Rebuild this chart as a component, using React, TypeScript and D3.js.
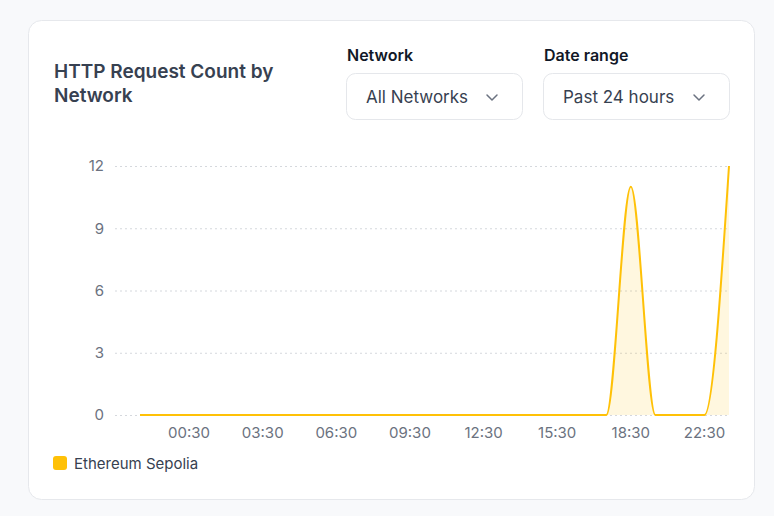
import React, { useEffect, useRef } from 'react';
import * as d3 from 'd3';

// hourly buckets, one hour is missing in the source between 18:30 and 20:30
const hours = [
  '22:30', '23:30', '00:30', '01:30', '02:30', '03:30', '04:30', '05:30', '06:30',
  '07:30', '08:30', '09:30', '10:30', '11:30', '12:30', '13:30', '14:30', '15:30',
  '16:30', '17:30', '18:30', '20:30', '21:30', '22:30', '23:30',
];
const requests = [0, 0, 0, 0, 0, 0, 0, 0, 0, 0, 0, 0, 0, 0, 0, 0, 0, 0, 0, 0, 11, 0, 0, 0, 12];
const yTicks = [0, 3, 6, 9, 12];
const seriesName = 'Ethereum Sepolia';
const color = '#FFC107';

const W = 774;
const H = 516;

export default function App() {
  const svgRef = useRef<SVGSVGElement>(null);

  useEffect(() => {
    if (!svgRef.current) return;
    const svg = d3.select(svgRef.current);
    svg.selectAll('*').remove();

    const font = 'Inter, "Noto Sans", sans-serif';

    svg.append('rect').attr('width', W).attr('height', H).attr('fill', '#f8f9fb');

    // card
    svg.append('rect')
      .attr('x', 28.5).attr('y', 20.5)
      .attr('width', 726).attr('height', 479)
      .attr('rx', 13)
      .attr('fill', '#fff')
      .attr('stroke', '#e6e8ec');

    // title
    const title = svg.append('text')
      .attr('font-family', font)
      .attr('font-size', 19)
      .attr('font-weight', 600)
      .attr('fill', '#374151');
    title.append('tspan').attr('x', 54).attr('y', 78).text('HTTP Request Count by');
    title.append('tspan').attr('x', 54).attr('y', 102).text('Network');

    // filters
    const filters = [
      { label: 'Network', value: 'All Networks', x: 346, w: 176 },
      { label: 'Date range', value: 'Past 24 hours', x: 543, w: 186 },
    ];
    filters.forEach(f => {
      const g = svg.append('g').attr('font-family', font);
      g.append('text')
        .attr('x', f.x + 1).attr('y', 61)
        .attr('font-size', 16).attr('font-weight', 600)
        .attr('fill', '#111827')
        .text(f.label);
      g.append('rect')
        .attr('x', f.x + 0.5).attr('y', 73.5)
        .attr('width', f.w).attr('height', 46)
        .attr('rx', 9)
        .attr('fill', '#fff')
        .attr('stroke', '#e5e7eb');
      g.append('text')
        .attr('x', f.x + 20).attr('y', 103)
        .attr('font-size', 17)
        .attr('fill', '#374151')
        .text(f.value);
      const cx = f.x + f.w - 30;
      g.append('path')
        .attr('d', `M${cx - 5},${95} L${cx},${100} L${cx + 5},${95}`)
        .attr('fill', 'none')
        .attr('stroke', '#6b7280')
        .attr('stroke-width', 1.5)
        .attr('stroke-linecap', 'round')
        .attr('stroke-linejoin', 'round');
    });

    // chart
    const idx = d3.range(hours.length);
    const x = d3.scalePoint<number>().domain(idx).range([140, 729]);
    const y = d3.scaleLinear().domain([0, 12]).range([415, 166]);

    const grid = svg.append('g');
    grid.selectAll('line')
      .data(yTicks)
      .enter()
      .append('line')
      .attr('x1', 115).attr('x2', 729)
      .attr('y1', d => y(d) + 0.5).attr('y2', d => y(d) + 0.5)
      .attr('stroke', '#d5d8dd')
      .attr('stroke-dasharray', '2 3');

    svg.append('g')
      .selectAll('text')
      .data(yTicks)
      .enter()
      .append('text')
      .attr('x', 104)
      .attr('y', d => y(d))
      .attr('dy', '0.35em')
      .attr('text-anchor', 'end')
      .attr('font-family', font)
      .attr('font-size', 15)
      .attr('fill', '#6b7280')
      .text(d => d);

    const labelIdx = idx.filter(i => i % 3 === 2);
    svg.append('g')
      .selectAll('text')
      .data(labelIdx)
      .enter()
      .append('text')
      .attr('x', i => x(i)!)
      .attr('y', 438)
      .attr('text-anchor', 'middle')
      .attr('font-family', font)
      .attr('font-size', 15)
      .attr('fill', '#6b7280')
      .text(i => hours[i]);

    const area = d3.area<number>()
      .x((_, i) => x(i)!)
      .y0(y(0))
      .y1(d => y(d))
      .curve(d3.curveMonotoneX);

    const line = d3.line<number>()
      .x((_, i) => x(i)!)
      .y(d => y(d))
      .curve(d3.curveMonotoneX);

    svg.append('path')
      .datum(requests)
      .attr('fill', color)
      .attr('fill-opacity', 0.13)
      .attr('d', area);

    svg.append('path')
      .datum(requests)
      .attr('fill', 'none')
      .attr('stroke', color)
      .attr('stroke-width', 2)
      .attr('d', line);

    // legend
    svg.append('rect')
      .attr('x', 53).attr('y', 456)
      .attr('width', 14).attr('height', 14)
      .attr('rx', 3)
      .attr('fill', color);
    svg.append('text')
      .attr('x', 74).attr('y', 464)
      .attr('dy', '0.35em')
      .attr('font-family', font)
      .attr('font-size', 15)
      .attr('fill', '#374151')
      .text(seriesName);
  }, []);

  return (
    <svg
      ref={svgRef}
      width={W}
      height={H}
      style={{ position: 'absolute', left: 0, top: 0, display: 'block' }}
    />
  );
}
